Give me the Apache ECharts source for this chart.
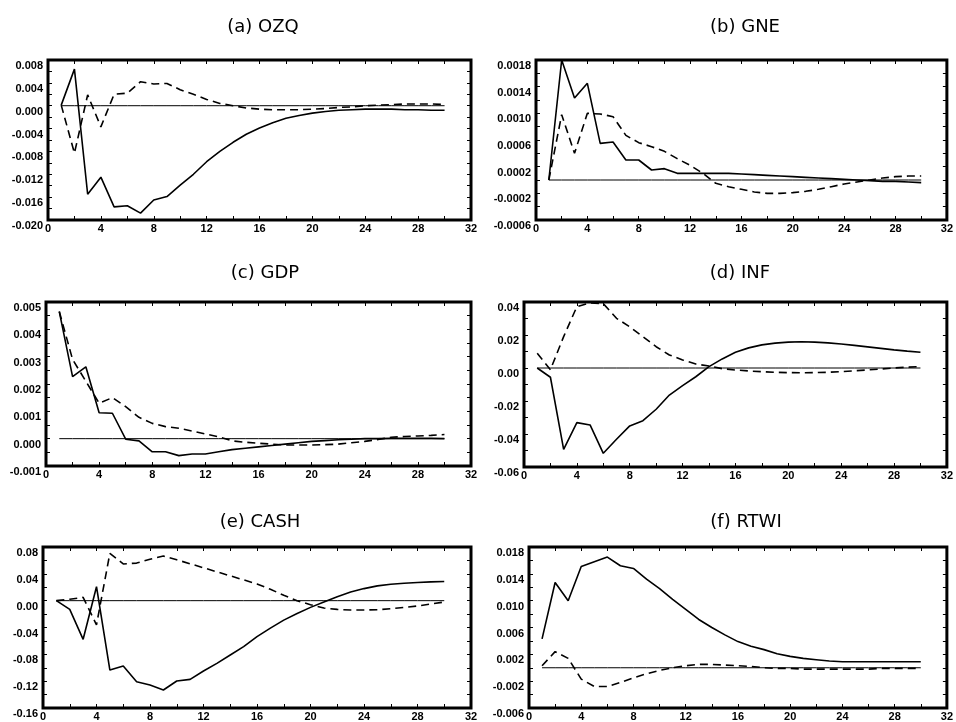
<!DOCTYPE html>
<html>
<head>
<meta charset="utf-8">
<script src="https://cdn.jsdelivr.net/npm/echarts@6/dist/echarts.min.js"></script>
<style>
html,body{margin:0;padding:0;background:#ffffff;}
#chart{width:956px;height:722px;}
</style>
</head>
<body>
<div id="chart"></div>
<script>
// ---------------- DATA ----------------
const horizons = [1,2,3,4,5,6,7,8,9,10,11,12,13,14,15,16,17,18,19,20,21,22,23,24,25,26,27,28,29,30];
const xTickLabels = [0,4,8,12,16,20,24,28,32];

const titles = ['(a) OZQ', '(b) GNE', '(c) GDP', '(d) INF', '(e) CASH', '(f) RTWI'];

const ozqSolid = [0.0001,0.0064,-0.0155,-0.0125,-0.0177,-0.0175,-0.0188,-0.0165,-0.0159,-0.0139,-0.0120,-0.0098,-0.0080,-0.0064,-0.0050,-0.0039,-0.0030,-0.0022,-0.0017,-0.0013,-0.0010,-0.0008,-0.0007,-0.0006,-0.0006,-0.0006,-0.0007,-0.0007,-0.0008,-0.0008];
const ozqDashed = [0.0001,-0.0083,0.0019,-0.0037,0.0020,0.0022,0.0042,0.0038,0.0039,0.0028,0.0020,0.0011,0.0004,0.0000,-0.0004,-0.0006,-0.0007,-0.0007,-0.0007,-0.0006,-0.0005,-0.0003,-0.0002,0.0000,0.0001,0.0002,0.0003,0.0003,0.0003,0.0002];
const ozqTickLabels = [-0.020,-0.016,-0.012,-0.008,-0.004,0.000,0.004,0.008];

const gneSolid = [0.0000,0.0018,0.00123,0.00145,0.00055,0.00057,0.00030,0.00030,0.00015,0.00017,0.00010,0.00010,0.00010,0.00010,0.00010,0.00009,0.00008,0.00007,0.00006,0.00005,0.00004,0.00003,0.00002,0.00001,0.00000,-0.00001,-0.00002,-0.00002,-0.00003,-0.00004];
const gneDashed = [0.0000,0.00098,0.00040,0.00100,0.00099,0.00095,0.00067,0.00056,0.00050,0.00043,0.00032,0.00022,0.00010,-0.00005,-0.00010,-0.00014,-0.00018,-0.00020,-0.00020,-0.00019,-0.00017,-0.00014,-0.00010,-0.00006,-0.00003,0.00000,0.00003,0.00005,0.00006,0.00006];
const gneTickLabels = [-0.0006,-0.0002,0.0002,0.0006,0.0010,0.0014,0.0018];

const gdpSolid = [0.00465,0.00227,0.00263,0.00095,0.00093,-0.00002,-0.00008,-0.00048,-0.00048,-0.00062,-0.00056,-0.00056,-0.00048,-0.00040,-0.00035,-0.00030,-0.00025,-0.00020,-0.00015,-0.00010,-0.00007,-0.00004,-0.00002,0.00000,0.00000,0.00001,0.00001,0.00001,0.00001,0.00000];
const gdpDashed = [0.00465,0.00290,0.00210,0.00130,0.00150,0.00117,0.00078,0.00056,0.00044,0.00038,0.00028,0.00017,0.00007,-0.00008,-0.00013,-0.00017,-0.00020,-0.00023,-0.00023,-0.00023,-0.00022,-0.00020,-0.00015,-0.00010,-0.00003,0.00005,0.00008,0.00010,0.00012,0.00015];
const gdpTickLabels = [-0.001,0.000,0.001,0.002,0.003,0.004,0.005];

const infSolid = [0.0000,-0.0056,-0.0493,-0.0331,-0.0345,-0.0517,-0.0432,-0.0351,-0.0319,-0.0250,-0.0164,-0.0107,-0.0053,0.0008,0.0055,0.0095,0.0122,0.0140,0.0151,0.0157,0.0159,0.0157,0.0152,0.0145,0.0137,0.0128,0.0119,0.0110,0.0102,0.0095];
const infDashed = [0.0089,-0.0010,0.0190,0.0372,0.0395,0.0390,0.0301,0.0250,0.0190,0.0129,0.0079,0.0049,0.0024,0.0012,-0.0004,-0.0012,-0.0018,-0.0022,-0.0026,-0.0028,-0.0029,-0.0028,-0.0026,-0.0022,-0.0017,-0.0012,-0.0006,0.0000,0.0005,0.0008];
const infTickLabels = [-0.06,-0.04,-0.02,0.00,0.02,0.04];

const cashSolid = [0.0000,-0.0130,-0.0576,0.0208,-0.1034,-0.0974,-0.1208,-0.1258,-0.1332,-0.1198,-0.1173,-0.1049,-0.0934,-0.0810,-0.0686,-0.0537,-0.0410,-0.0290,-0.0190,-0.0100,-0.0020,0.0060,0.0130,0.0180,0.0220,0.0245,0.0260,0.0270,0.0280,0.0285];
const cashDashed = [0.0000,0.0020,0.0050,-0.0360,0.0706,0.0547,0.0560,0.0617,0.0666,0.0610,0.0550,0.0490,0.0430,0.0370,0.0310,0.0250,0.0170,0.0080,0.0000,-0.0060,-0.0110,-0.0130,-0.0140,-0.0140,-0.0135,-0.0120,-0.0100,-0.0080,-0.0050,-0.0020];
const cashTickLabels = [-0.16,-0.12,-0.08,-0.04,0.00,0.04,0.08];

const rtwiSolid = [0.0043,0.0127,0.0100,0.0151,0.0158,0.0165,0.0152,0.0148,0.0132,0.0118,0.0102,0.0087,0.0072,0.0060,0.0049,0.0039,0.0032,0.0027,0.0021,0.0017,0.0014,0.0012,0.0010,0.0009,0.0009,0.0009,0.0009,0.0009,0.0009,0.0009];
const rtwiDashed = [0.0003,0.0024,0.0014,-0.0017,-0.0028,-0.0028,-0.0022,-0.0015,-0.0009,-0.0004,0.0000,0.0003,0.0005,0.0005,0.0004,0.0003,0.0002,0.0000,-0.0001,-0.0001,-0.0002,-0.0002,-0.0002,-0.0002,-0.0002,-0.0002,-0.0001,-0.0001,-0.0001,-0.0001];
const rtwiTickLabels = [-0.006,-0.002,0.002,0.006,0.010,0.014,0.018];

// ---------------- LAYOUT / STYLE ----------------
const panels = [
  {solid: ozqSolid,  dashed: ozqDashed,  labels: ozqTickLabels,  dec: 3, minor: 0.002},
  {solid: gneSolid,  dashed: gneDashed,  labels: gneTickLabels,  dec: 4, minor: 0.0002},
  {solid: gdpSolid,  dashed: gdpDashed,  labels: gdpTickLabels,  dec: 3, minor: 0.0005},
  {solid: infSolid,  dashed: infDashed,  labels: infTickLabels,  dec: 2, minor: 0.01},
  {solid: cashSolid, dashed: cashDashed, labels: cashTickLabels, dec: 2, minor: 0.02},
  {solid: rtwiSolid, dashed: rtwiDashed, labels: rtwiTickLabels, dec: 3, minor: 0.002}
];
const layout = [
  {left: 48,  top: 60,  width: 423, height: 160, tx: 258, ty: 13},
  {left: 536, top: 60,  width: 413, height: 160, tx: 740, ty: 13},
  {left: 46,  top: 302, width: 425, height: 164, tx: 260, ty: 259},
  {left: 524, top: 302, width: 426, height: 165, tx: 735, ty: 259},
  {left: 43,  top: 547, width: 428, height: 161, tx: 255, ty: 508},
  {left: 529, top: 547, width: 422, height: 161, tx: 741, ty: 508}
];

function fmt(v, dec) {
  const r = Number(v.toFixed(dec));
  return (Math.abs(r) < Math.pow(10, -dec - 1) ? 0 : r).toFixed(dec);
}
function range(a, b, step) {
  const out = [];
  const n = Math.round((b - a) / step);
  for (let i = 0; i <= n; i++) out.push(Number((a + i * step).toFixed(8)));
  return out;
}
const xTicks = range(0, 32, 2);
const labelFont = {fontFamily: 'Liberation Sans', fontWeight: 'bold', fontSize: 11, color: '#000'};

const option = {
  animation: false,
  backgroundColor: '#ffffff',
  title: [], grid: [], xAxis: [], yAxis: [], series: []
};

panels.forEach((p, i) => {
  const L = layout[i];
  const yMin = p.labels[0], yMax = p.labels[p.labels.length - 1];
  const yTicks = range(yMin, yMax, p.minor);
  option.title.push({
    text: titles[i], left: L.tx, top: L.ty, textAlign: 'center',
    textStyle: {fontFamily: 'DejaVu Sans', fontSize: 18, fontWeight: 'normal', color: '#000'}
  });
  option.grid.push({
    left: L.left, top: L.top, width: L.width, height: L.height,
    show: true, borderColor: '#000', borderWidth: 3, backgroundColor: 'transparent'
  });
  const tickStyle = {show: true, inside: true, length: 4, lineStyle: {color: '#000', width: 1}};
  const noLine = {show: false, onZero: false};
  option.xAxis.push({
    type: 'value', gridIndex: i, position: 'bottom', min: 0, max: 32,
    axisLine: noLine, splitLine: {show: false},
    axisTick: Object.assign({customValues: xTicks}, tickStyle),
    axisLabel: Object.assign({customValues: xTickLabels, margin: 3, formatter: v => String(Math.round(v))}, labelFont)
  });
  option.xAxis.push({
    type: 'value', gridIndex: i, position: 'top', min: 0, max: 32,
    axisLine: noLine, splitLine: {show: false},
    axisTick: Object.assign({customValues: xTicks}, tickStyle),
    axisLabel: {show: false}
  });
  option.yAxis.push({
    type: 'value', gridIndex: i, position: 'left', min: yMin, max: yMax,
    axisLine: noLine, splitLine: {show: false},
    axisTick: Object.assign({customValues: yTicks}, tickStyle),
    axisLabel: Object.assign({customValues: p.labels, margin: 5, verticalAlign: 'top', lineHeight: 12,
      formatter: v => fmt(v, p.dec)}, labelFont)
  });
  option.yAxis.push({
    type: 'value', gridIndex: i, position: 'right', min: yMin, max: yMax,
    axisLine: noLine, splitLine: {show: false},
    axisTick: Object.assign({customValues: yTicks}, tickStyle),
    axisLabel: {show: false}
  });
  const xi = i * 2, yi = i * 2;
  option.series.push({
    type: 'line', xAxisIndex: xi, yAxisIndex: yi, symbol: 'none', silent: true,
    data: horizons.map(h => [h, 0]),
    lineStyle: {color: '#000', width: 1}
  });
  option.series.push({
    type: 'line', xAxisIndex: xi, yAxisIndex: yi, symbol: 'none', silent: true,
    data: horizons.map((h, k) => [h, p.solid[k]]),
    lineStyle: {color: '#000', width: 1.6}
  });
  option.series.push({
    type: 'line', xAxisIndex: xi, yAxisIndex: yi, symbol: 'none', silent: true,
    data: horizons.map((h, k) => [h, p.dashed[k]]),
    lineStyle: {color: '#000', width: 1.6, type: [8, 5]}
  });
});

const chart = echarts.init(document.getElementById('chart'), null, {renderer: 'canvas'});
chart.setOption(option);
</script>
</body>
</html>
